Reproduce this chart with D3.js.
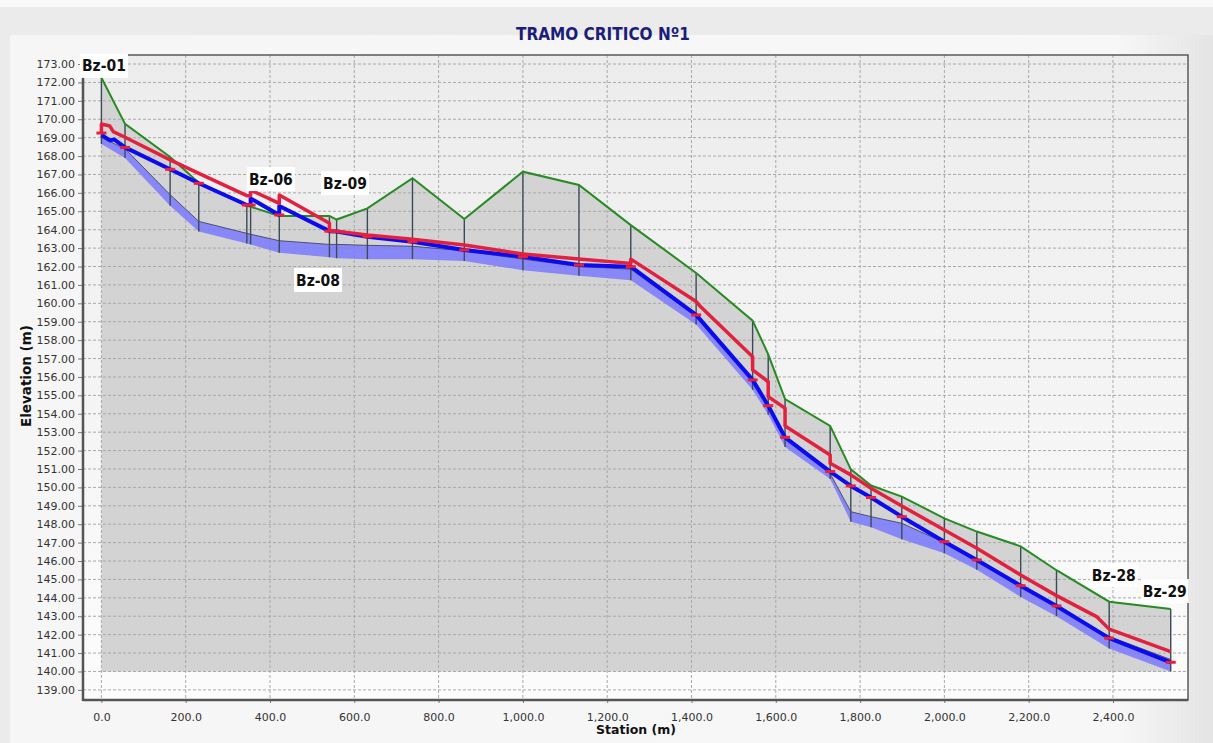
<!doctype html>
<html>
<head>
<meta charset="utf-8">
<style>
  body { margin: 0; background: #ececec; }
  text { font-family: "DejaVu Sans", sans-serif; }
</style>
</head>
<body>
<svg id="chart" width="1213" height="743"></svg>
<script src="https://d3js.org/d3.v7.min.js"></script>
<script>
// cross sections Bz-01 .. Bz-29 (station in m)
const stations = [0, 56, 163, 231, 345, 354, 422, 541, 558, 631, 738, 861, 1000, 1133, 1256,
  1411, 1545, 1582, 1622, 1729, 1778, 1826, 1899, 2000, 2077, 2181, 2266, 2391, 2537];

// top of bank (green)
const bankElev = [172.25, 169.75, 167.95, 166.55, 165.3, 165.25, 164.75, 164.75, 164.55, 165.16,
  166.8, 164.58, 167.15, 166.43, 164.25, 161.65, 159.06, 157.23, 154.8, 153.34, 150.98, 150.1,
  149.5, 148.32, 147.6, 146.8, 145.5, 143.79, 143.4];

// channel bed (thin line) and lower edge of the blue band
const bedElev = [169.0, 168.4, 165.9, 164.45, 163.8, 163.75, 163.4, 163.2, 163.2, 163.15, 163.1,
  162.85, 162.4, 162.0, 161.85, 159.3, 155.75, 154.4, 152.65, 150.75, 148.68, 148.41, 148.05,
  147.0, 146.06, 144.6, 143.5, 141.9, 140.65];
const bedLowElev = [168.65, 167.9, 165.3, 163.9, 163.25, 163.2, 162.75, 162.5, 162.45, 162.4,
  162.4, 162.3, 161.8, 161.5, 161.25, 158.85, 155.3, 153.95, 152.2, 150.45, 148.14, 147.83,
  147.18, 146.42, 145.52, 144.05, 143.0, 141.25, 140.0];

// red tick marks at every section
const markElev = [169.25, 168.47, 167.28, 166.52, 165.34, 165.34, 164.8, 163.92, 163.9, 163.62,
  163.35, 162.9, 162.53, 162.08, 161.99, 159.37, 155.84, 154.44, 152.72, 150.86, 150.08, 149.45,
  148.41, 147.05, 146.06, 144.66, 143.56, 141.81, 140.5];

// water surface (blue) [station, elevation]
const wsProfile = [[0, 169.15], [20, 168.85], [30, 168.9], [56, 168.47], [163, 167.28], [231, 166.52],
  [345, 165.34], [354, 165.34], [354, 165.7], [422, 164.8], [422, 165.29], [541, 163.92], [558, 163.9],
  [631, 163.62], [738, 163.35], [861, 162.9], [1000, 162.53], [1133, 162.08], [1256, 161.99],
  [1411, 159.37], [1545, 155.84], [1582, 154.44], [1622, 152.72], [1729, 150.86], [1778, 150.08],
  [1826, 149.45], [1899, 148.41], [2000, 147.05], [2077, 146.06], [2181, 144.66], [2266, 143.56],
  [2391, 141.81], [2537, 140.5]];

// energy grade (red) [station, elevation]
const egProfile = [[0, 169.25], [0, 169.74], [20, 169.63], [28, 169.33], [56, 169.02], [163, 167.79],
  [231, 167.06], [345, 165.85], [354, 165.85], [354, 166.15], [422, 165.43], [422, 165.88],
  [541, 164.35], [541, 163.95], [558, 163.92], [631, 163.71], [738, 163.48], [861, 163.17],
  [1000, 162.68], [1133, 162.41], [1256, 162.17], [1256, 162.4], [1411, 160.1], [1420, 159.85],
  [1545, 157.1], [1545, 156.38], [1582, 155.74], [1582, 154.93], [1622, 154.3], [1622, 153.34],
  [1729, 151.76], [1729, 151.31], [1778, 150.68], [1826, 149.95], [1899, 148.99], [2000, 147.69],
  [2077, 146.69], [2181, 145.24], [2266, 144.12], [2361, 142.98], [2391, 142.3], [2537, 141.08]];

// section labels [name, station, elevation]
const labels = [["Bz-01", 6, 172.9], ["Bz-06", 402, 166.75], ["Bz-09", 578, 166.53],
  ["Bz-08", 514, 161.27], ["Bz-28", 2402, 145.24], ["Bz-29", 2523, 144.37]];

const xTicks = [0, 200, 400, 600, 800, 1000, 1200, 1400, 1600, 1800, 2000, 2200, 2400];
const yTicks = [139, 140, 141, 142, 143, 144, 145, 146, 147, 148, 149, 150, 151, 152, 153, 154, 155,
  156, 157, 158, 159, 160, 161, 162, 163, 164, 165, 166, 167, 168, 169, 170, 171, 172, 173];
const baseElev = 140;

let plot = { left: 83, right: 1188, top: 55, bottom: 700 };
let x = d3.scaleLinear().domain([-43.7, 2578]).range([plot.left, plot.right]);
let y = d3.scaleLinear().domain([138.45, 173.49]).range([plot.bottom, plot.top]);

let svg = d3.select("#chart");
let defs = svg.append("defs");

let bgGrad = defs.append("linearGradient").attr("id", "plotbg").attr("x1", 0).attr("y1", 0).attr("x2", 0).attr("y2", 1);
bgGrad.append("stop").attr("offset", "0%").attr("stop-color", "#ececec");
bgGrad.append("stop").attr("offset", "100%").attr("stop-color", "#fcfcfc");

let panelGrad = defs.append("linearGradient").attr("id", "panelbg").attr("x1", 0).attr("y1", 0).attr("x2", 1).attr("y2", 0);
panelGrad.append("stop").attr("offset", "0%").attr("stop-color", "#f6f6f6");
panelGrad.append("stop").attr("offset", "92%").attr("stop-color", "#f7f7f7");
panelGrad.append("stop").attr("offset", "100%").attr("stop-color", "#e4e4e4");

// page background
svg.append("rect").attr("width", 1213).attr("height", 743).attr("fill", "#ebebeb");
svg.append("rect").attr("x", 0).attr("y", 0).attr("width", 1213).attr("height", 7).attr("fill", "#fafafa");
svg.append("rect").attr("x", 10).attr("y", 35).attr("width", 1203).attr("height", 708).attr("fill", "url(#panelbg)");

// title
svg.append("text")
  .attr("x", 603).attr("y", 40)
  .attr("text-anchor", "middle")
  .style("font-family", "'DejaVu Sans Condensed', 'Liberation Sans Narrow', 'DejaVu Sans', sans-serif")
  .style("font-stretch", "condensed")
  .style("font-weight", "bold")
  .style("font-size", "17px")
  .attr("fill", "#1c1c7a")
  .text("TRAMO CRITICO Nº1");

// plot background
svg.append("rect")
  .attr("x", plot.left).attr("y", plot.top)
  .attr("width", plot.right - plot.left).attr("height", plot.bottom - plot.top)
  .attr("fill", "url(#plotbg)");

let g = svg.append("g");

// ground fill under bank line
let sections = stations.map((s, i) => ({ s: s, bank: bankElev[i], bed: bedElev[i], low: bedLowElev[i], mark: markElev[i] }));

g.append("path")
  .datum(sections)
  .attr("fill", "#d3d3d3")
  .attr("d", d3.area().x(d => x(d.s)).y0(y(baseElev)).y1(d => y(d.bank)));

// grid
g.append("g").selectAll("line").data(yTicks).join("line")
  .attr("x1", plot.left).attr("x2", plot.right)
  .attr("y1", d => y(d)).attr("y2", d => y(d))
  .attr("stroke", "#a9a9a9").attr("stroke-width", 1).attr("stroke-dasharray", "3,2");
g.append("g").selectAll("line").data(xTicks).join("line")
  .attr("x1", d => x(d)).attr("x2", d => x(d))
  .attr("y1", plot.top).attr("y2", plot.bottom)
  .attr("stroke", "#a9a9a9").attr("stroke-width", 1).attr("stroke-dasharray", "3,2");

// blue band + bed line
g.append("path")
  .datum(sections)
  .attr("fill", "#7676ff").attr("opacity", 0.82)
  .attr("d", d3.area().x(d => x(d.s)).y0(d => y(d.low)).y1(d => y(d.bed)));
g.append("path")
  .datum(sections)
  .attr("fill", "none").attr("stroke", "#4a4f72").attr("stroke-width", 1)
  .attr("d", d3.line().x(d => x(d.s)).y(d => y(d.bed)));

// section verticals
g.append("g").selectAll("line").data(sections).join("line")
  .attr("x1", d => x(d.s)).attr("x2", d => x(d.s))
  .attr("y1", d => y(d.bank)).attr("y2", d => y(d.low))
  .attr("stroke", "#3b4a57").attr("stroke-width", 1.4);

// bank line
g.append("path")
  .datum(sections)
  .attr("fill", "none").attr("stroke", "#278a22").attr("stroke-width", 2)
  .attr("d", d3.line().x(d => x(d.s)).y(d => y(d.bank)));

// water surface
g.append("path")
  .datum(wsProfile)
  .attr("fill", "none").attr("stroke", "#0b0bee").attr("stroke-width", 4)
  .attr("stroke-linejoin", "round")
  .attr("d", d3.line().x(d => x(d[0])).y(d => y(d[1])));

// energy grade
g.append("path")
  .datum(egProfile)
  .attr("fill", "none").attr("stroke", "#e2203f").attr("stroke-width", 3.5)
  .attr("stroke-linejoin", "round")
  .attr("d", d3.line().x(d => x(d[0])).y(d => y(d[1])));

// red marks
g.append("g").selectAll("rect").data(sections).join("rect")
  .attr("x", d => x(d.s) - 5).attr("y", d => y(d.mark) - 1.5)
  .attr("width", 10).attr("height", 3)
  .attr("fill", "#e8203c");

// axes
let yAxis = svg.append("g")
  .attr("transform", "translate(" + plot.left + ",0)")
  .call(d3.axisLeft(y).tickValues(yTicks).tickFormat(d3.format(".2f")).tickSize(5).tickPadding(3));
let xAxis = svg.append("g")
  .attr("transform", "translate(0," + plot.bottom + ")")
  .call(d3.axisBottom(x).tickValues(xTicks).tickFormat(d3.format(",.1f")).tickSize(3).tickPadding(10));
[yAxis, xAxis].forEach(a => {
  a.select(".domain").remove();
  a.selectAll("text").style("font-size", "11px").attr("fill", "#333");
  a.selectAll("line").attr("stroke", "#777");
});

// frame
svg.append("rect")
  .attr("x", plot.left).attr("y", plot.top)
  .attr("width", plot.right - plot.left).attr("height", plot.bottom - plot.top)
  .attr("fill", "none").attr("stroke", "#5a5a5a").attr("stroke-width", 1.5);
svg.append("line").attr("x1", plot.left).attr("x2", plot.left).attr("y1", plot.top).attr("y2", plot.bottom + 1)
  .attr("stroke", "#555").attr("stroke-width", 2.5);
svg.append("line").attr("x1", plot.left).attr("x2", plot.right).attr("y1", plot.bottom).attr("y2", plot.bottom)
  .attr("stroke", "#555").attr("stroke-width", 2.5);

// axis titles
svg.append("text")
  .attr("x", 636).attr("y", 734)
  .attr("text-anchor", "middle")
  .style("font-weight", "bold").style("font-size", "12.5px")
  .attr("fill", "#111")
  .text("Station (m)");
svg.append("text")
  .attr("transform", "translate(31,376) rotate(-90)")
  .attr("text-anchor", "middle")
  .style("font-weight", "bold").style("font-size", "13.5px")
  .attr("fill", "#111")
  .text("Elevation (m)");

// section labels
let lab = svg.append("g").selectAll("g").data(labels).join("g")
  .attr("transform", d => "translate(" + x(d[1]) + "," + y(d[2]) + ")");
lab.append("rect")
  .attr("x", -24).attr("y", -12).attr("width", 48).attr("height", 24)
  .attr("fill", "#fff");
lab.append("text")
  .attr("text-anchor", "middle").attr("dy", "0.36em")
  .style("font-family", "'DejaVu Sans Condensed', 'Liberation Sans Narrow', 'DejaVu Sans', sans-serif")
  .style("font-stretch", "condensed")
  .style("font-weight", "bold").style("font-size", "15.5px")
  .attr("fill", "#111")
  .text(d => d[0]);
</script>
</body>
</html>
